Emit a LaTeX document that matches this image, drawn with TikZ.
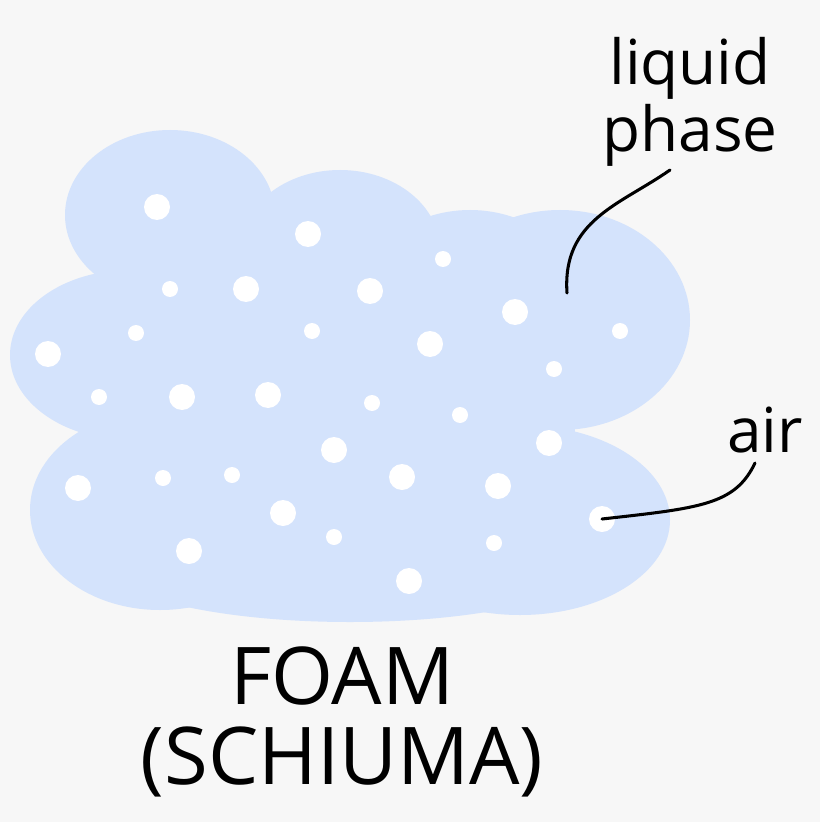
\documentclass[tikz,border=0pt]{standalone}
\usepackage{fontspec}
\setmainfont{Open Sans}
\definecolor{bg}{HTML}{F7F7F7}
\definecolor{foam}{HTML}{D4E3FC}
\begin{document}
\begin{tikzpicture}[x=0.03cm,y=-0.03cm,
  lbl/.style={inner sep=0pt,font=\fontsize{53}{60}\selectfont},
  big/.style={inner sep=0pt,font=\fontsize{68}{76}\selectfont},
  lead/.style={line width=2.6pt,line cap=round}]
\fill[bg] (0,0) rectangle (820,822);
\useasboundingbox (0,0) rectangle (820,822);
\begin{scope}[fill=foam]
\fill (170,215) ellipse [x radius=105,y radius=85];
\fill (340,250) ellipse [x radius=100,y radius=80];
\fill (470,300) ellipse [x radius=110,y radius=90];
\fill (560,320) ellipse [x radius=130,y radius=110];
\fill (130,355) ellipse [x radius=120,y radius=85];
\fill (160,510) ellipse [x radius=130,y radius=100];
\fill (520,520) ellipse [x radius=150,y radius=95];
\fill (350,560) ellipse [x radius=250,y radius=62];
\fill (150,250) rectangle (560,590);
\fill (430,280) rectangle (575,560);
\end{scope}
\foreach \x/\y/\r [count=\i] in {157/207/13,308/234/13,443/259/8,170/289/8,246/289/13,370/291/13,515/312/13,136/333/8,312/331/8,430/344/13,620/331/8,48/354/13,554/369/8,99/397/8,182/397/13,268/395/13,372/403/8,460/415/8,549/443/13,334/450/13,78/488/13,163/478/8,232/475/8,402/477/13,498/486/13,283/513/13,334/537/8,494/543/8,189/551/13,409/581/13}
  \fill[white] (\x,\y) circle [radius=\r];
\node[circle,fill=white,minimum size=0.78cm,inner sep=0pt] (airdot) at (602,519) {};
\node[lbl] (liquid) at (690,68) {liquid};
\node[lbl] (phase) at (690,135) {phase};
\node[lbl] (air) at (765,430) {air};
\node[big] (foamt) at (342,676) {FOAM};
\node[big] (schiuma) at (342,762) {(SCHIUMA)};
\coordinate (lp) at (567,293);
\coordinate (lpe) at (670,170);
\coordinate (ae) at (755,463);
\draw[lead] (lp) .. controls (562,220) and (620,205) .. (lpe);
\draw[lead] (airdot.center) .. controls (700,508) and (735,505) .. (ae);
\end{tikzpicture}
\end{document}
